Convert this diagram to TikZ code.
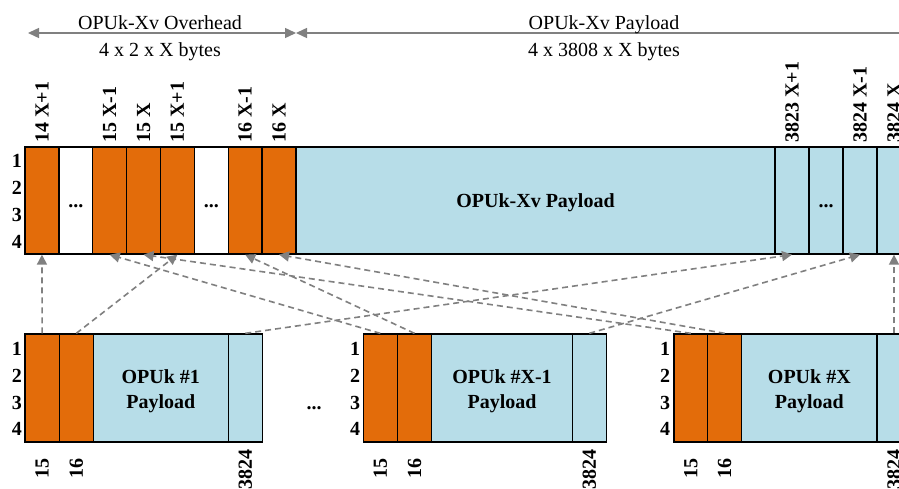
\documentclass[tikz,border=0pt]{standalone}
\usepackage{fontspec}
\setmainfont{Liberation Serif}
\usetikzlibrary{arrows.meta}
\definecolor{orng}{RGB}{227,108,10}
\definecolor{lblue}{RGB}{183,221,232}
\definecolor{grayln}{RGB}{128,128,128}
\begin{document}
\begin{tikzpicture}[x=1pt,y=-1pt,
  tcell/.style={draw=black, line width=1.3pt, inner sep=0pt, minimum height=107pt},
  bcell/.style={draw=black, line width=1.3pt, inner sep=0pt, minimum height=108pt},
  org/.style={fill=orng}, blu/.style={fill=lblue}, wht/.style={fill=white},
  lbl/.style={font=\bfseries\fontsize{20}{24}\selectfont, inner sep=0pt},
  htxt/.style={font=\fontsize{20}{24}\selectfont, inner sep=0pt, anchor=base},
  rowlbl/.style={lbl, anchor=base},
  toplbl/.style={lbl, rotate=90, anchor=west},
  botlbl/.style={lbl, rotate=90, anchor=center},
  dasharrow/.style={draw=grayln, line width=1.6pt, dash pattern=on 6pt off 4pt,
    -{Triangle[length=10pt,width=10pt]}},
  hdrarrow/.style={draw=grayln, line width=1.4pt,
    {Triangle[length=11pt,width=10pt]}-{Triangle[length=11pt,width=10pt]}}
]
\clip (0,0) rectangle (899,489);
\fill[white] (0,0) rectangle (899,489);

% header
\coordinate (hl) at (28,33);
\coordinate (hm) at (296,33);
\coordinate (hr) at (912,33);
\draw[hdrarrow] (hl) -- (hm);
\draw[hdrarrow] (hm) -- (hr);
\node[htxt] (h1) at (160,30) {OPUk-Xv Overhead};
\node[htxt] (h2) at (160,56.5) {4 x 2 x X bytes};
\node[htxt] (h3) at (604,30) {OPUk-Xv Payload};
\node[htxt] (h4) at (604,56.5) {4 x 3808 x X bytes};

% top row
\node[tcell,org,minimum width=33.9pt] (t1) at (41.94,200.5) {};
\node[tcell,wht,minimum width=33.9pt] (t2) at (75.81,200.5) {};
\node[tcell,org,minimum width=33.9pt] (t3) at (109.69,200.5) {};
\node[tcell,org,minimum width=33.9pt] (t4) at (143.56,200.5) {};
\node[tcell,org,minimum width=33.9pt] (t5) at (177.44,200.5) {};
\node[tcell,wht,minimum width=33.9pt] (t6) at (211.31,200.5) {};
\node[tcell,org,minimum width=33.9pt] (t7) at (245.19,200.5) {};
\node[tcell,org,minimum width=33.9pt] (t8) at (279.06,200.5) {};
\node[tcell,blu,minimum width=479pt] (tp) at (535.5,200.5) {};
\node[tcell,blu,minimum width=34pt] (r1) at (792,200.5) {};
\node[tcell,blu,minimum width=34pt] (r2) at (826,200.5) {};
\node[tcell,blu,minimum width=34pt] (r3) at (860,200.5) {};
\node[tcell,blu,minimum width=34pt] (r4) at (894,200.5) {};

\node[lbl,anchor=base] (tptxt) at (535.5,207.5) {OPUk-Xv Payload};
\node[lbl,anchor=base] (d1) at (75.81,207.5) {...};
\node[lbl,anchor=base] (d2) at (211.31,207.5) {...};
\node[lbl,anchor=base] (d3) at (826,207.5) {...};

\node[rowlbl] (tr1) at (17,167.5) {1};
\node[rowlbl] (tr2) at (17,194.5) {2};
\node[rowlbl] (tr3) at (17,221.5) {3};
\node[rowlbl] (tr4) at (17,248) {4};

\node[toplbl] (l1) at (41.94,143) {14 X+1};
\node[toplbl] (l3) at (109.69,143) {15 X-1};
\node[toplbl] (l4) at (143.56,143) {15 X};
\node[toplbl] (l5) at (177.44,143) {15 X+1};
\node[toplbl] (l7) at (245.19,143) {16 X-1};
\node[toplbl] (l8) at (279.06,143) {16 X};
\node[toplbl] (l9) at (792,143) {3823 X+1};
\node[toplbl] (l10) at (860,143) {3824 X-1};
\node[toplbl] (l11) at (894,143) {3824 X};

% bottom box 1
\node[bcell,org,minimum width=34.3pt] (a1) at (42.15,388) {};
\node[bcell,org,minimum width=34pt] (a2) at (76.3,388) {};
\node[bcell,blu,minimum width=135pt] (ap) at (160.8,388) {};
\node[bcell,blu,minimum width=34pt] (a4) at (245.3,388) {};
\node[lbl,anchor=base] (at1) at (160.8,383) {OPUk \#1};
\node[lbl,anchor=base] (at2) at (160.8,408.5) {Payload};
% bottom box 2
\node[bcell,org,minimum width=34pt] (b1) at (380.3,388) {};
\node[bcell,org,minimum width=34.4pt] (b2) at (414.5,388) {};
\node[bcell,blu,minimum width=140.6pt] (bp) at (502,388) {};
\node[bcell,blu,minimum width=34pt] (b4) at (589.3,388) {};
\node[lbl,anchor=base] (bt1) at (502,383) {OPUk \#X-1};
\node[lbl,anchor=base] (bt2) at (502,408.5) {Payload};
% bottom box 3
\node[bcell,org,minimum width=33.7pt] (c1) at (690.85,388) {};
\node[bcell,org,minimum width=34pt] (c2) at (724.7,388) {};
\node[bcell,blu,minimum width=135.3pt] (cp) at (809.35,388) {};
\node[bcell,blu,minimum width=34pt] (c4) at (894,388) {};
\node[lbl,anchor=base] (ct1) at (809.35,383) {OPUk \#X};
\node[lbl,anchor=base] (ct2) at (809.35,408.5) {Payload};

\node[lbl,anchor=base] (d4) at (314,409) {...};

% bottom row labels
\foreach \bx/\nm in {17/A,355/B,665/C}{
  \node[rowlbl] (\nm r1) at (\bx,355) {1};
  \node[rowlbl] (\nm r2) at (\bx,382) {2};
  \node[rowlbl] (\nm r3) at (\bx,409) {3};
  \node[rowlbl] (\nm r4) at (\bx,435.5) {4};
}

% bottom column labels
\node[botlbl] (m1) at (42.15,468) {15};
\node[botlbl] (m2) at (76.3,468) {16};
\node[botlbl] (m3) at (245.3,469.5) {3824};
\node[botlbl] (m4) at (380.3,468) {15};
\node[botlbl] (m5) at (414.5,468) {16};
\node[botlbl] (m6) at (589.3,469.5) {3824};
\node[botlbl] (m7) at (690.85,468) {15};
\node[botlbl] (m8) at (724.7,468) {16};
\node[botlbl] (m9) at (894,469.5) {3824};

% dashed mapping arrows
\draw[dasharrow] (a1.north) -- (t1.south);
\draw[dasharrow] (a2.north) -- (t5.south);
\draw[dasharrow] (a4.north) -- (r1.south);
\draw[dasharrow] (b1.north) -- (t3.south);
\draw[dasharrow] (b2.north) -- (t7.south);
\draw[dasharrow] (b4.north) -- (r3.south);
\draw[dasharrow] (c1.north) -- (t4.south);
\draw[dasharrow] (c2.north) -- (t8.south);
\draw[dasharrow] (c4.north) -- (r4.south);
\end{tikzpicture}
\end{document}
